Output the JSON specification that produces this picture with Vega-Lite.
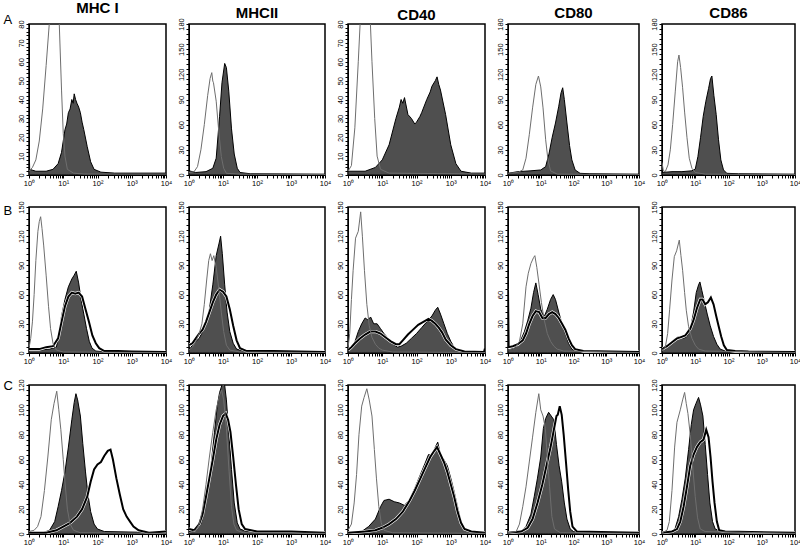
{
"$schema": "https://vega.github.io/schema/vega-lite/v6.json",
"padding": {"left": 2, "top": 0, "right": 2, "bottom": 2},
"config": {
 "font": "Liberation Sans",
 "view": {"stroke": "black", "strokeWidth": 1.5},
 "title": {"fontSize": 15, "fontWeight": "bold", "font": "Liberation Sans", "offset": -3, "frame": "group", "color": "black"},
 "axis": {"grid": false, "domainColor": "black", "tickColor": "black", "tickSize": 3, "labelFont": "Liberation Sans", "labelFontSize": 7.5, "labelColor": "black", "labelPadding": 1, "labelOverlap": false, "labelFlush": false, "labelBound": false},
 "axisY": {"labelAngle": 270, "titleAngle": 0, "titleAlign": "left", "titleBaseline": "top", "titleFontSize": 13, "titleFontWeight": "normal", "titleX": -26, "titleColor": "black", "titleFont": "Liberation Sans"}
},
"datasets": {
"A1": [{"s":"c","x":0,"y":2},{"s":"c","x":0.1,"y":4},{"s":"c","x":0.2,"y":8},{"s":"c","x":0.3,"y":18},{"s":"c","x":0.4,"y":35},{"s":"c","x":0.5,"y":58},{"s":"c","x":0.6,"y":82},{"s":"c","x":0.7,"y":100},{"s":"c","x":0.8,"y":100},{"s":"c","x":0.88,"y":82},{"s":"c","x":0.95,"y":45},{"s":"c","x":1,"y":22},{"s":"c","x":1.05,"y":10},{"s":"c","x":1.12,"y":3},{"s":"c","x":1.3,"y":1},{"s":"c","x":1.6,"y":0.5},{"s":"c","x":4,"y":0.5},
{"s":"f","x":0,"y":18},{"s":"f","x":0.02,"y":3},{"s":"f","x":0.2,"y":2},{"s":"f","x":0.5,"y":2},{"s":"f","x":0.7,"y":3},{"s":"f","x":0.85,"y":6},{"s":"f","x":0.95,"y":12},{"s":"f","x":1.05,"y":24},{"s":"f","x":1.1,"y":27},{"s":"f","x":1.15,"y":33},{"s":"f","x":1.2,"y":35},{"s":"f","x":1.25,"y":40},{"s":"f","x":1.29,"y":38},{"s":"f","x":1.32,"y":43},{"s":"f","x":1.36,"y":40},{"s":"f","x":1.4,"y":38},{"s":"f","x":1.45,"y":36},{"s":"f","x":1.5,"y":33},{"s":"f","x":1.55,"y":28},{"s":"f","x":1.6,"y":24},{"s":"f","x":1.7,"y":15},{"s":"f","x":1.8,"y":7},{"s":"f","x":1.9,"y":3},{"s":"f","x":2.1,"y":1.5},{"s":"f","x":2.5,"y":1},{"s":"f","x":4,"y":1}],
"A2": [{"s":"c","x":0,"y":3},{"s":"c","x":0.15,"y":4},{"s":"c","x":0.25,"y":10},{"s":"c","x":0.35,"y":30},{"s":"c","x":0.45,"y":60},{"s":"c","x":0.55,"y":95},{"s":"c","x":0.62,"y":115},{"s":"c","x":0.67,"y":122},{"s":"c","x":0.7,"y":112},{"s":"c","x":0.72,"y":110},{"s":"c","x":0.8,"y":88},{"s":"c","x":0.88,"y":50},{"s":"c","x":0.95,"y":22},{"s":"c","x":1.02,"y":8},{"s":"c","x":1.1,"y":2},{"s":"c","x":1.5,"y":1},{"s":"c","x":4,"y":0.5},
{"s":"f","x":0,"y":5},{"s":"f","x":0.2,"y":3},{"s":"f","x":0.5,"y":4},{"s":"f","x":0.7,"y":8},{"s":"f","x":0.8,"y":20},{"s":"f","x":0.9,"y":70},{"s":"f","x":0.97,"y":110},{"s":"f","x":1.05,"y":133},{"s":"f","x":1.1,"y":128},{"s":"f","x":1.17,"y":100},{"s":"f","x":1.25,"y":55},{"s":"f","x":1.33,"y":25},{"s":"f","x":1.42,"y":8},{"s":"f","x":1.5,"y":3},{"s":"f","x":1.8,"y":1.5},{"s":"f","x":4,"y":1}],
"A3": [{"s":"c","x":0,"y":2},{"s":"c","x":0.1,"y":5},{"s":"c","x":0.2,"y":25},{"s":"c","x":0.3,"y":60},{"s":"c","x":0.38,"y":90},{"s":"c","x":0.5,"y":110},{"s":"c","x":0.62,"y":95},{"s":"c","x":0.7,"y":60},{"s":"c","x":0.78,"y":30},{"s":"c","x":0.85,"y":10},{"s":"c","x":0.95,"y":3},{"s":"c","x":1.2,"y":1},{"s":"c","x":4,"y":0.5},
{"s":"f","x":0,"y":2},{"s":"f","x":0.5,"y":2},{"s":"f","x":0.8,"y":4},{"s":"f","x":1,"y":8},{"s":"f","x":1.2,"y":16},{"s":"f","x":1.4,"y":30},{"s":"f","x":1.5,"y":36},{"s":"f","x":1.55,"y":40},{"s":"f","x":1.6,"y":38},{"s":"f","x":1.65,"y":41},{"s":"f","x":1.75,"y":32},{"s":"f","x":1.85,"y":30},{"s":"f","x":1.95,"y":27},{"s":"f","x":2,"y":28},{"s":"f","x":2.1,"y":31},{"s":"f","x":2.15,"y":33},{"s":"f","x":2.3,"y":40},{"s":"f","x":2.4,"y":44},{"s":"f","x":2.45,"y":47},{"s":"f","x":2.55,"y":50},{"s":"f","x":2.6,"y":52},{"s":"f","x":2.65,"y":48},{"s":"f","x":2.7,"y":45},{"s":"f","x":2.85,"y":32},{"s":"f","x":3,"y":16},{"s":"f","x":3.15,"y":6},{"s":"f","x":3.3,"y":2},{"s":"f","x":3.6,"y":1},{"s":"f","x":4,"y":1}],
"A4": [{"s":"c","x":0,"y":2},{"s":"c","x":0.3,"y":3},{"s":"c","x":0.45,"y":6},{"s":"c","x":0.55,"y":20},{"s":"c","x":0.65,"y":48},{"s":"c","x":0.75,"y":80},{"s":"c","x":0.85,"y":108},{"s":"c","x":0.93,"y":118},{"s":"c","x":1,"y":105},{"s":"c","x":1.07,"y":80},{"s":"c","x":1.15,"y":42},{"s":"c","x":1.22,"y":18},{"s":"c","x":1.3,"y":5},{"s":"c","x":1.5,"y":1},{"s":"c","x":4,"y":0.5},
{"s":"f","x":0,"y":2},{"s":"f","x":0.3,"y":4},{"s":"f","x":0.7,"y":5},{"s":"f","x":1,"y":6},{"s":"f","x":1.15,"y":10},{"s":"f","x":1.25,"y":25},{"s":"f","x":1.35,"y":45},{"s":"f","x":1.45,"y":62},{"s":"f","x":1.55,"y":82},{"s":"f","x":1.62,"y":98},{"s":"f","x":1.67,"y":104},{"s":"f","x":1.72,"y":90},{"s":"f","x":1.8,"y":62},{"s":"f","x":1.88,"y":35},{"s":"f","x":1.95,"y":18},{"s":"f","x":2.05,"y":6},{"s":"f","x":2.2,"y":2},{"s":"f","x":2.5,"y":1.5},{"s":"f","x":4,"y":1}],
"A5": [{"s":"c","x":0,"y":15},{"s":"c","x":0.04,"y":5},{"s":"c","x":0.1,"y":4},{"s":"c","x":0.18,"y":12},{"s":"c","x":0.25,"y":30},{"s":"c","x":0.32,"y":60},{"s":"c","x":0.4,"y":100},{"s":"c","x":0.47,"y":135},{"s":"c","x":0.51,"y":143},{"s":"c","x":0.56,"y":128},{"s":"c","x":0.62,"y":104},{"s":"c","x":0.68,"y":75},{"s":"c","x":0.75,"y":45},{"s":"c","x":0.82,"y":20},{"s":"c","x":0.9,"y":8},{"s":"c","x":1,"y":3},{"s":"c","x":1.3,"y":1},{"s":"c","x":4,"y":0.5},
{"s":"f","x":0,"y":3},{"s":"f","x":0.3,"y":4},{"s":"f","x":0.6,"y":4},{"s":"f","x":0.9,"y":5},{"s":"f","x":1,"y":7},{"s":"f","x":1.08,"y":22},{"s":"f","x":1.16,"y":45},{"s":"f","x":1.24,"y":70},{"s":"f","x":1.32,"y":88},{"s":"f","x":1.4,"y":103},{"s":"f","x":1.46,"y":115},{"s":"f","x":1.5,"y":118},{"s":"f","x":1.56,"y":95},{"s":"f","x":1.63,"y":72},{"s":"f","x":1.7,"y":42},{"s":"f","x":1.77,"y":18},{"s":"f","x":1.85,"y":6},{"s":"f","x":1.95,"y":2},{"s":"f","x":2.3,"y":1.5},{"s":"f","x":4,"y":1}],
"B1": [{"s":"c","x":0,"y":5},{"s":"c","x":0.05,"y":15},{"s":"c","x":0.1,"y":32},{"s":"c","x":0.15,"y":60},{"s":"c","x":0.2,"y":95},{"s":"c","x":0.26,"y":125},{"s":"c","x":0.3,"y":135},{"s":"c","x":0.34,"y":140},{"s":"c","x":0.38,"y":128},{"s":"c","x":0.43,"y":110},{"s":"c","x":0.5,"y":80},{"s":"c","x":0.57,"y":48},{"s":"c","x":0.63,"y":25},{"s":"c","x":0.7,"y":10},{"s":"c","x":0.8,"y":3},{"s":"c","x":1,"y":1},{"s":"c","x":4,"y":0.5},
{"s":"f","x":0,"y":3},{"s":"f","x":0.3,"y":3},{"s":"f","x":0.6,"y":4},{"s":"f","x":0.8,"y":6},{"s":"f","x":0.88,"y":20},{"s":"f","x":0.95,"y":38},{"s":"f","x":1.05,"y":55},{"s":"f","x":1.15,"y":68},{"s":"f","x":1.25,"y":76},{"s":"f","x":1.32,"y":80},{"s":"f","x":1.38,"y":84},{"s":"f","x":1.45,"y":72},{"s":"f","x":1.52,"y":55},{"s":"f","x":1.6,"y":40},{"s":"f","x":1.68,"y":25},{"s":"f","x":1.76,"y":12},{"s":"f","x":1.84,"y":5},{"s":"f","x":1.95,"y":2},{"s":"f","x":2.3,"y":1},{"s":"f","x":4,"y":1},
{"s":"b","x":0,"y":4},{"s":"b","x":0.3,"y":4},{"s":"b","x":0.5,"y":6},{"s":"b","x":0.7,"y":7},{"s":"b","x":0.85,"y":15},{"s":"b","x":0.95,"y":32},{"s":"b","x":1.05,"y":48},{"s":"b","x":1.15,"y":58},{"s":"b","x":1.25,"y":62},{"s":"b","x":1.35,"y":61},{"s":"b","x":1.45,"y":62},{"s":"b","x":1.55,"y":58},{"s":"b","x":1.65,"y":45},{"s":"b","x":1.75,"y":32},{"s":"b","x":1.85,"y":18},{"s":"b","x":1.95,"y":10},{"s":"b","x":2.05,"y":5},{"s":"b","x":2.2,"y":2},{"s":"b","x":2.6,"y":2},{"s":"b","x":3,"y":1.5},{"s":"b","x":4,"y":1}],
"B2": [{"s":"c","x":0,"y":3},{"s":"c","x":0.1,"y":6},{"s":"c","x":0.2,"y":12},{"s":"c","x":0.3,"y":20},{"s":"c","x":0.38,"y":30},{"s":"c","x":0.45,"y":50},{"s":"c","x":0.52,"y":75},{"s":"c","x":0.58,"y":95},{"s":"c","x":0.63,"y":102},{"s":"c","x":0.68,"y":95},{"s":"c","x":0.73,"y":100},{"s":"c","x":0.8,"y":88},{"s":"c","x":0.88,"y":65},{"s":"c","x":0.95,"y":42},{"s":"c","x":1.02,"y":22},{"s":"c","x":1.1,"y":8},{"s":"c","x":1.2,"y":3},{"s":"c","x":1.5,"y":1},{"s":"c","x":4,"y":0.5},
{"s":"f","x":0,"y":3},{"s":"f","x":0.1,"y":8},{"s":"f","x":0.2,"y":12},{"s":"f","x":0.3,"y":15},{"s":"f","x":0.4,"y":22},{"s":"f","x":0.5,"y":30},{"s":"f","x":0.6,"y":45},{"s":"f","x":0.7,"y":70},{"s":"f","x":0.8,"y":100},{"s":"f","x":0.88,"y":112},{"s":"f","x":0.93,"y":120},{"s":"f","x":0.98,"y":102},{"s":"f","x":1.05,"y":70},{"s":"f","x":1.12,"y":42},{"s":"f","x":1.2,"y":22},{"s":"f","x":1.3,"y":10},{"s":"f","x":1.4,"y":4},{"s":"f","x":1.6,"y":2},{"s":"f","x":2,"y":2},{"s":"f","x":4,"y":1},
{"s":"b","x":0,"y":8},{"s":"b","x":0.1,"y":10},{"s":"b","x":0.2,"y":15},{"s":"b","x":0.3,"y":20},{"s":"b","x":0.4,"y":24},{"s":"b","x":0.5,"y":32},{"s":"b","x":0.6,"y":42},{"s":"b","x":0.7,"y":52},{"s":"b","x":0.8,"y":60},{"s":"b","x":0.9,"y":65},{"s":"b","x":1,"y":63},{"s":"b","x":1.1,"y":58},{"s":"b","x":1.2,"y":45},{"s":"b","x":1.3,"y":28},{"s":"b","x":1.4,"y":13},{"s":"b","x":1.5,"y":5},{"s":"b","x":1.7,"y":2},{"s":"b","x":2.5,"y":2},{"s":"b","x":4,"y":1}],
"B3": [{"s":"c","x":0,"y":5},{"s":"c","x":0.05,"y":20},{"s":"c","x":0.1,"y":55},{"s":"c","x":0.15,"y":85},{"s":"c","x":0.22,"y":118},{"s":"c","x":0.3,"y":125},{"s":"c","x":0.37,"y":145},{"s":"c","x":0.42,"y":120},{"s":"c","x":0.48,"y":85},{"s":"c","x":0.55,"y":50},{"s":"c","x":0.62,"y":28},{"s":"c","x":0.7,"y":16},{"s":"c","x":0.8,"y":9},{"s":"c","x":0.9,"y":5},{"s":"c","x":1,"y":3},{"s":"c","x":1.3,"y":1},{"s":"c","x":4,"y":0.5},
{"s":"f","x":0,"y":2},{"s":"f","x":0.15,"y":6},{"s":"f","x":0.3,"y":22},{"s":"f","x":0.4,"y":30},{"s":"f","x":0.5,"y":36},{"s":"f","x":0.58,"y":34},{"s":"f","x":0.66,"y":37},{"s":"f","x":0.75,"y":30},{"s":"f","x":0.85,"y":30},{"s":"f","x":0.95,"y":25},{"s":"f","x":1.05,"y":20},{"s":"f","x":1.15,"y":16},{"s":"f","x":1.25,"y":12},{"s":"f","x":1.35,"y":8},{"s":"f","x":1.45,"y":6},{"s":"f","x":1.55,"y":7},{"s":"f","x":1.7,"y":10},{"s":"f","x":1.85,"y":15},{"s":"f","x":2,"y":20},{"s":"f","x":2.15,"y":26},{"s":"f","x":2.3,"y":32},{"s":"f","x":2.45,"y":38},{"s":"f","x":2.55,"y":44},{"s":"f","x":2.62,"y":47},{"s":"f","x":2.7,"y":40},{"s":"f","x":2.8,"y":30},{"s":"f","x":2.9,"y":20},{"s":"f","x":3,"y":12},{"s":"f","x":3.1,"y":6},{"s":"f","x":3.25,"y":3},{"s":"f","x":3.5,"y":1},{"s":"f","x":4,"y":1},
{"s":"b","x":0,"y":3},{"s":"b","x":0.1,"y":6},{"s":"b","x":0.2,"y":10},{"s":"b","x":0.35,"y":15},{"s":"b","x":0.5,"y":19},{"s":"b","x":0.65,"y":22},{"s":"b","x":0.8,"y":22},{"s":"b","x":0.95,"y":20},{"s":"b","x":1.1,"y":16},{"s":"b","x":1.25,"y":12},{"s":"b","x":1.4,"y":9},{"s":"b","x":1.5,"y":9},{"s":"b","x":1.6,"y":13},{"s":"b","x":1.75,"y":19},{"s":"b","x":1.9,"y":24},{"s":"b","x":2.05,"y":29},{"s":"b","x":2.2,"y":32},{"s":"b","x":2.35,"y":35},{"s":"b","x":2.45,"y":33},{"s":"b","x":2.55,"y":30},{"s":"b","x":2.65,"y":26},{"s":"b","x":2.75,"y":21},{"s":"b","x":2.85,"y":14},{"s":"b","x":3,"y":8},{"s":"b","x":3.15,"y":4},{"s":"b","x":3.4,"y":1.5},{"s":"b","x":3.97,"y":1},{"s":"b","x":4,"y":5}],
"B4": [{"s":"c","x":0,"y":3},{"s":"c","x":0.2,"y":5},{"s":"c","x":0.35,"y":12},{"s":"c","x":0.45,"y":30},{"s":"c","x":0.55,"y":68},{"s":"c","x":0.62,"y":82},{"s":"c","x":0.7,"y":92},{"s":"c","x":0.78,"y":98},{"s":"c","x":0.82,"y":100},{"s":"c","x":0.88,"y":88},{"s":"c","x":0.95,"y":70},{"s":"c","x":1.02,"y":52},{"s":"c","x":1.1,"y":35},{"s":"c","x":1.2,"y":20},{"s":"c","x":1.3,"y":12},{"s":"c","x":1.4,"y":7},{"s":"c","x":1.5,"y":4},{"s":"c","x":1.7,"y":2},{"s":"c","x":4,"y":0.5},
{"s":"f","x":0,"y":3},{"s":"f","x":0.2,"y":5},{"s":"f","x":0.35,"y":10},{"s":"f","x":0.5,"y":22},{"s":"f","x":0.6,"y":33},{"s":"f","x":0.7,"y":46},{"s":"f","x":0.78,"y":62},{"s":"f","x":0.85,"y":72},{"s":"f","x":0.92,"y":60},{"s":"f","x":1,"y":45},{"s":"f","x":1.1,"y":37},{"s":"f","x":1.2,"y":45},{"s":"f","x":1.3,"y":55},{"s":"f","x":1.38,"y":60},{"s":"f","x":1.45,"y":55},{"s":"f","x":1.55,"y":42},{"s":"f","x":1.65,"y":30},{"s":"f","x":1.75,"y":20},{"s":"f","x":1.85,"y":10},{"s":"f","x":1.95,"y":4},{"s":"f","x":2.1,"y":2},{"s":"f","x":2.5,"y":1.5},{"s":"f","x":4,"y":1},
{"s":"b","x":0,"y":65},{"s":"b","x":0.02,"y":6},{"s":"b","x":0.15,"y":7},{"s":"b","x":0.3,"y":9},{"s":"b","x":0.45,"y":13},{"s":"b","x":0.55,"y":20},{"s":"b","x":0.65,"y":30},{"s":"b","x":0.75,"y":38},{"s":"b","x":0.85,"y":43},{"s":"b","x":0.95,"y":42},{"s":"b","x":1.05,"y":36},{"s":"b","x":1.15,"y":36},{"s":"b","x":1.25,"y":40},{"s":"b","x":1.35,"y":42},{"s":"b","x":1.45,"y":40},{"s":"b","x":1.55,"y":36},{"s":"b","x":1.65,"y":30},{"s":"b","x":1.75,"y":24},{"s":"b","x":1.85,"y":15},{"s":"b","x":1.95,"y":8},{"s":"b","x":2.05,"y":4},{"s":"b","x":2.3,"y":2},{"s":"b","x":4,"y":1}],
"B5": [{"s":"c","x":0,"y":2},{"s":"c","x":0.1,"y":6},{"s":"c","x":0.17,"y":20},{"s":"c","x":0.23,"y":45},{"s":"c","x":0.3,"y":75},{"s":"c","x":0.37,"y":99},{"s":"c","x":0.44,"y":105},{"s":"c","x":0.52,"y":116},{"s":"c","x":0.57,"y":100},{"s":"c","x":0.62,"y":85},{"s":"c","x":0.68,"y":62},{"s":"c","x":0.73,"y":44},{"s":"c","x":0.8,"y":27},{"s":"c","x":0.9,"y":15},{"s":"c","x":1,"y":8},{"s":"c","x":1.1,"y":4},{"s":"c","x":1.3,"y":2},{"s":"c","x":4,"y":0.5},
{"s":"f","x":0,"y":3},{"s":"f","x":0.15,"y":7},{"s":"f","x":0.3,"y":12},{"s":"f","x":0.45,"y":16},{"s":"f","x":0.55,"y":17},{"s":"f","x":0.65,"y":15},{"s":"f","x":0.75,"y":17},{"s":"f","x":0.85,"y":24},{"s":"f","x":0.95,"y":42},{"s":"f","x":1.03,"y":62},{"s":"f","x":1.1,"y":70},{"s":"f","x":1.14,"y":73},{"s":"f","x":1.2,"y":64},{"s":"f","x":1.28,"y":52},{"s":"f","x":1.36,"y":40},{"s":"f","x":1.45,"y":28},{"s":"f","x":1.55,"y":17},{"s":"f","x":1.65,"y":9},{"s":"f","x":1.75,"y":4},{"s":"f","x":1.9,"y":2},{"s":"f","x":2.5,"y":1.5},{"s":"f","x":4,"y":1},
{"s":"b","x":0,"y":4},{"s":"b","x":0.15,"y":7},{"s":"b","x":0.3,"y":11},{"s":"b","x":0.45,"y":15},{"s":"b","x":0.55,"y":16},{"s":"b","x":0.7,"y":18},{"s":"b","x":0.85,"y":25},{"s":"b","x":0.95,"y":34},{"s":"b","x":1.05,"y":46},{"s":"b","x":1.15,"y":55},{"s":"b","x":1.22,"y":55},{"s":"b","x":1.3,"y":50},{"s":"b","x":1.38,"y":52},{"s":"b","x":1.47,"y":57},{"s":"b","x":1.55,"y":50},{"s":"b","x":1.63,"y":38},{"s":"b","x":1.7,"y":28},{"s":"b","x":1.78,"y":17},{"s":"b","x":1.86,"y":8},{"s":"b","x":1.95,"y":3},{"s":"b","x":2.2,"y":2},{"s":"b","x":2.6,"y":1.5},{"s":"b","x":4,"y":1}],
"C1": [{"s":"c","x":0,"y":2},{"s":"c","x":0.15,"y":3},{"s":"c","x":0.25,"y":6},{"s":"c","x":0.35,"y":14},{"s":"c","x":0.45,"y":35},{"s":"c","x":0.55,"y":62},{"s":"c","x":0.65,"y":92},{"s":"c","x":0.73,"y":105},{"s":"c","x":0.81,"y":115},{"s":"c","x":0.87,"y":100},{"s":"c","x":0.93,"y":84},{"s":"c","x":1,"y":60},{"s":"c","x":1.05,"y":42},{"s":"c","x":1.12,"y":20},{"s":"c","x":1.2,"y":8},{"s":"c","x":1.3,"y":3},{"s":"c","x":1.5,"y":1},{"s":"c","x":4,"y":0.5},
{"s":"f","x":0,"y":1},{"s":"f","x":0.4,"y":1},{"s":"f","x":0.6,"y":3},{"s":"f","x":0.75,"y":10},{"s":"f","x":0.85,"y":22},{"s":"f","x":0.95,"y":35},{"s":"f","x":1.05,"y":50},{"s":"f","x":1.15,"y":70},{"s":"f","x":1.25,"y":92},{"s":"f","x":1.32,"y":106},{"s":"f","x":1.37,"y":113},{"s":"f","x":1.42,"y":108},{"s":"f","x":1.5,"y":95},{"s":"f","x":1.57,"y":73},{"s":"f","x":1.65,"y":50},{"s":"f","x":1.72,"y":32},{"s":"f","x":1.8,"y":18},{"s":"f","x":1.9,"y":8},{"s":"f","x":2,"y":4},{"s":"f","x":2.2,"y":2},{"s":"f","x":4,"y":1},
{"s":"b","x":0,"y":1},{"s":"b","x":0.5,"y":1},{"s":"b","x":0.8,"y":3},{"s":"b","x":1,"y":6},{"s":"b","x":1.2,"y":9},{"s":"b","x":1.4,"y":14},{"s":"b","x":1.55,"y":20},{"s":"b","x":1.7,"y":30},{"s":"b","x":1.8,"y":42},{"s":"b","x":1.9,"y":52},{"s":"b","x":2,"y":56},{"s":"b","x":2.1,"y":58},{"s":"b","x":2.2,"y":63},{"s":"b","x":2.3,"y":67},{"s":"b","x":2.38,"y":68},{"s":"b","x":2.45,"y":60},{"s":"b","x":2.55,"y":45},{"s":"b","x":2.65,"y":32},{"s":"b","x":2.75,"y":20},{"s":"b","x":2.85,"y":14},{"s":"b","x":2.95,"y":10},{"s":"b","x":3.05,"y":6},{"s":"b","x":3.2,"y":3},{"s":"b","x":3.5,"y":1},{"s":"b","x":4,"y":2}],
"C2": [{"s":"c","x":0,"y":1},{"s":"c","x":0.2,"y":3},{"s":"c","x":0.3,"y":8},{"s":"c","x":0.4,"y":20},{"s":"c","x":0.5,"y":40},{"s":"c","x":0.6,"y":62},{"s":"c","x":0.7,"y":82},{"s":"c","x":0.8,"y":100},{"s":"c","x":0.9,"y":112},{"s":"c","x":0.96,"y":116},{"s":"c","x":1.02,"y":108},{"s":"c","x":1.1,"y":85},{"s":"c","x":1.18,"y":50},{"s":"c","x":1.25,"y":22},{"s":"c","x":1.32,"y":8},{"s":"c","x":1.4,"y":3},{"s":"c","x":1.6,"y":1},{"s":"c","x":4,"y":0.5},
{"s":"f","x":0,"y":2},{"s":"f","x":0.2,"y":3},{"s":"f","x":0.35,"y":8},{"s":"f","x":0.45,"y":18},{"s":"f","x":0.55,"y":35},{"s":"f","x":0.65,"y":56},{"s":"f","x":0.75,"y":82},{"s":"f","x":0.83,"y":103},{"s":"f","x":0.9,"y":114},{"s":"f","x":0.97,"y":120},{"s":"f","x":1.04,"y":122},{"s":"f","x":1.1,"y":108},{"s":"f","x":1.17,"y":82},{"s":"f","x":1.25,"y":52},{"s":"f","x":1.33,"y":25},{"s":"f","x":1.42,"y":9},{"s":"f","x":1.5,"y":4},{"s":"f","x":1.7,"y":2},{"s":"f","x":4,"y":1},
{"s":"b","x":0,"y":4},{"s":"b","x":0.15,"y":3},{"s":"b","x":0.3,"y":8},{"s":"b","x":0.4,"y":16},{"s":"b","x":0.5,"y":30},{"s":"b","x":0.6,"y":45},{"s":"b","x":0.7,"y":60},{"s":"b","x":0.8,"y":76},{"s":"b","x":0.9,"y":88},{"s":"b","x":1,"y":95},{"s":"b","x":1.08,"y":97},{"s":"b","x":1.15,"y":92},{"s":"b","x":1.22,"y":82},{"s":"b","x":1.3,"y":62},{"s":"b","x":1.38,"y":40},{"s":"b","x":1.46,"y":20},{"s":"b","x":1.55,"y":8},{"s":"b","x":1.65,"y":4},{"s":"b","x":2,"y":2},{"s":"b","x":3,"y":2},{"s":"b","x":4,"y":1}],
"C3": [{"s":"c","x":0,"y":3},{"s":"c","x":0.1,"y":8},{"s":"c","x":0.18,"y":25},{"s":"c","x":0.25,"y":48},{"s":"c","x":0.32,"y":80},{"s":"c","x":0.4,"y":103},{"s":"c","x":0.47,"y":110},{"s":"c","x":0.55,"y":117},{"s":"c","x":0.62,"y":108},{"s":"c","x":0.7,"y":95},{"s":"c","x":0.77,"y":68},{"s":"c","x":0.83,"y":45},{"s":"c","x":0.9,"y":22},{"s":"c","x":0.97,"y":9},{"s":"c","x":1.05,"y":3},{"s":"c","x":1.3,"y":1},{"s":"c","x":4,"y":0.5},
{"s":"f","x":0,"y":1},{"s":"f","x":0.4,"y":2},{"s":"f","x":0.6,"y":6},{"s":"f","x":0.8,"y":12},{"s":"f","x":0.95,"y":22},{"s":"f","x":1.05,"y":27},{"s":"f","x":1.2,"y":28},{"s":"f","x":1.35,"y":26},{"s":"f","x":1.5,"y":25},{"s":"f","x":1.65,"y":23},{"s":"f","x":1.8,"y":28},{"s":"f","x":1.95,"y":37},{"s":"f","x":2.1,"y":47},{"s":"f","x":2.25,"y":57},{"s":"f","x":2.35,"y":64},{"s":"f","x":2.45,"y":63},{"s":"f","x":2.55,"y":70},{"s":"f","x":2.62,"y":74},{"s":"f","x":2.7,"y":64},{"s":"f","x":2.8,"y":60},{"s":"f","x":2.9,"y":55},{"s":"f","x":3,"y":45},{"s":"f","x":3.1,"y":34},{"s":"f","x":3.2,"y":22},{"s":"f","x":3.3,"y":10},{"s":"f","x":3.4,"y":4},{"s":"f","x":3.6,"y":1.5},{"s":"f","x":4,"y":1},
{"s":"b","x":0,"y":1},{"s":"b","x":0.5,"y":2},{"s":"b","x":0.8,"y":3},{"s":"b","x":1,"y":5},{"s":"b","x":1.2,"y":8},{"s":"b","x":1.4,"y":12},{"s":"b","x":1.6,"y":18},{"s":"b","x":1.8,"y":27},{"s":"b","x":1.95,"y":35},{"s":"b","x":2.1,"y":44},{"s":"b","x":2.25,"y":53},{"s":"b","x":2.4,"y":62},{"s":"b","x":2.52,"y":67},{"s":"b","x":2.6,"y":70},{"s":"b","x":2.7,"y":64},{"s":"b","x":2.8,"y":58},{"s":"b","x":2.9,"y":50},{"s":"b","x":3,"y":40},{"s":"b","x":3.1,"y":30},{"s":"b","x":3.2,"y":18},{"s":"b","x":3.3,"y":9},{"s":"b","x":3.4,"y":4},{"s":"b","x":3.6,"y":2},{"s":"b","x":4,"y":1}],
"C4": [{"s":"c","x":0,"y":1},{"s":"c","x":0.25,"y":2},{"s":"c","x":0.35,"y":8},{"s":"c","x":0.45,"y":22},{"s":"c","x":0.55,"y":38},{"s":"c","x":0.65,"y":58},{"s":"c","x":0.75,"y":78},{"s":"c","x":0.85,"y":98},{"s":"c","x":0.94,"y":113},{"s":"c","x":1,"y":100},{"s":"c","x":1.07,"y":95},{"s":"c","x":1.14,"y":85},{"s":"c","x":1.2,"y":62},{"s":"c","x":1.27,"y":38},{"s":"c","x":1.34,"y":14},{"s":"c","x":1.42,"y":4},{"s":"c","x":1.6,"y":1},{"s":"c","x":4,"y":0.5},
{"s":"f","x":0,"y":1},{"s":"f","x":0.4,"y":2},{"s":"f","x":0.55,"y":6},{"s":"f","x":0.7,"y":16},{"s":"f","x":0.8,"y":30},{"s":"f","x":0.9,"y":45},{"s":"f","x":1,"y":62},{"s":"f","x":1.08,"y":85},{"s":"f","x":1.15,"y":93},{"s":"f","x":1.24,"y":98},{"s":"f","x":1.32,"y":95},{"s":"f","x":1.4,"y":92},{"s":"f","x":1.48,"y":72},{"s":"f","x":1.56,"y":55},{"s":"f","x":1.64,"y":42},{"s":"f","x":1.72,"y":25},{"s":"f","x":1.8,"y":12},{"s":"f","x":1.9,"y":4},{"s":"f","x":2,"y":2},{"s":"f","x":4,"y":1},
{"s":"b","x":0,"y":1},{"s":"b","x":0.4,"y":2},{"s":"b","x":0.6,"y":5},{"s":"b","x":0.75,"y":12},{"s":"b","x":0.9,"y":25},{"s":"b","x":1.05,"y":40},{"s":"b","x":1.2,"y":58},{"s":"b","x":1.3,"y":70},{"s":"b","x":1.4,"y":84},{"s":"b","x":1.48,"y":95},{"s":"b","x":1.52,"y":96},{"s":"b","x":1.58,"y":103},{"s":"b","x":1.64,"y":96},{"s":"b","x":1.7,"y":80},{"s":"b","x":1.77,"y":58},{"s":"b","x":1.84,"y":35},{"s":"b","x":1.9,"y":18},{"s":"b","x":1.97,"y":6},{"s":"b","x":2.1,"y":2},{"s":"b","x":4,"y":1}],
"C5": [{"s":"c","x":0,"y":1},{"s":"c","x":0.15,"y":3},{"s":"c","x":0.22,"y":10},{"s":"c","x":0.3,"y":35},{"s":"c","x":0.38,"y":70},{"s":"c","x":0.45,"y":90},{"s":"c","x":0.55,"y":100},{"s":"c","x":0.62,"y":108},{"s":"c","x":0.68,"y":114},{"s":"c","x":0.73,"y":105},{"s":"c","x":0.78,"y":97},{"s":"c","x":0.85,"y":80},{"s":"c","x":0.92,"y":55},{"s":"c","x":1,"y":30},{"s":"c","x":1.07,"y":13},{"s":"c","x":1.15,"y":4},{"s":"c","x":1.3,"y":2},{"s":"c","x":4,"y":0.5},
{"s":"f","x":0,"y":1},{"s":"f","x":0.3,"y":2},{"s":"f","x":0.4,"y":5},{"s":"f","x":0.5,"y":14},{"s":"f","x":0.6,"y":28},{"s":"f","x":0.7,"y":45},{"s":"f","x":0.8,"y":68},{"s":"f","x":0.88,"y":88},{"s":"f","x":0.95,"y":100},{"s":"f","x":1.02,"y":105},{"s":"f","x":1.1,"y":110},{"s":"f","x":1.16,"y":104},{"s":"f","x":1.23,"y":95},{"s":"f","x":1.3,"y":72},{"s":"f","x":1.37,"y":48},{"s":"f","x":1.44,"y":25},{"s":"f","x":1.52,"y":10},{"s":"f","x":1.6,"y":4},{"s":"f","x":1.8,"y":2},{"s":"f","x":4,"y":1},
{"s":"b","x":0,"y":1},{"s":"b","x":0.3,"y":2},{"s":"b","x":0.45,"y":4},{"s":"b","x":0.55,"y":10},{"s":"b","x":0.65,"y":22},{"s":"b","x":0.75,"y":38},{"s":"b","x":0.85,"y":55},{"s":"b","x":0.95,"y":64},{"s":"b","x":1.05,"y":70},{"s":"b","x":1.15,"y":74},{"s":"b","x":1.25,"y":76},{"s":"b","x":1.33,"y":84},{"s":"b","x":1.4,"y":78},{"s":"b","x":1.46,"y":62},{"s":"b","x":1.52,"y":42},{"s":"b","x":1.58,"y":25},{"s":"b","x":1.65,"y":10},{"s":"b","x":1.72,"y":3},{"s":"b","x":1.9,"y":2},{"s":"b","x":4,"y":1}]
},
"columns": 5,
"spacing": {"row": 32, "column": 23},
"bounds": "flush",
"concat": [
 {"width": 137, "height": 151, "title": "MHC I", "data": {"name": "A1"},
  "encoding": {"x": {"field": "x", "type": "quantitative", "scale": {"domain": [0, 4], "nice": false}, "axis": {"values": [0,0.301,0.477,0.602,0.699,0.778,0.845,0.903,0.954,1,1.301,1.477,1.602,1.699,1.778,1.845,1.903,1.954,2,2.301,2.477,2.602,2.699,2.778,2.845,2.903,2.954,3,3.301,3.477,3.602,3.699,3.778,3.845,3.903,3.954,4], "labelExpr": "datum.value % 1 === 0 ? '10' + ['⁰','¹','²','³','⁴'][datum.value] : ''", "title": null}},
   "y": {"field": "y", "type": "quantitative", "scale": {"domain": [0, 80], "nice": false}, "axis": {"values": [0,2,4,6,8,10,12,14,16,18,20,22,24,26,28,30,32,34,36,38,40,42,44,46,48,50,52,54,56,58,60,62,64,66,68,70,72,74,76,78,80], "labelExpr": "datum.value % 10 === 0 ? datum.label : ''", "title": "A", "titleY": -11}}},
  "layer": [
   {"transform": [{"filter": "datum.s === 'f'"}], "mark": {"type": "area", "fill": "#4f4f4f", "stroke": "black", "strokeWidth": 1, "opacity": 1, "clip": true}},
   {"transform": [{"filter": "datum.s === 'c'"}], "mark": {"type": "line", "color": "#6e6e6e", "strokeWidth": 1, "clip": true}}]},
 {"width": 136, "height": 151, "title": "MHCII", "data": {"name": "A2"},
  "encoding": {"x": {"field": "x", "type": "quantitative", "scale": {"domain": [0, 4], "nice": false}, "axis": {"values": [0,0.301,0.477,0.602,0.699,0.778,0.845,0.903,0.954,1,1.301,1.477,1.602,1.699,1.778,1.845,1.903,1.954,2,2.301,2.477,2.602,2.699,2.778,2.845,2.903,2.954,3,3.301,3.477,3.602,3.699,3.778,3.845,3.903,3.954,4], "labelExpr": "datum.value % 1 === 0 ? '10' + ['⁰','¹','²','³','⁴'][datum.value] : ''", "title": null}},
   "y": {"field": "y", "type": "quantitative", "scale": {"domain": [0, 180], "nice": false}, "axis": {"values": [0,6,12,18,24,30,36,42,48,54,60,66,72,78,84,90,96,102,108,114,120,126,132,138,144,150,156,162,168,174,180], "labelExpr": "datum.value % 30 === 0 ? datum.label : ''", "title": null}}},
  "layer": [
   {"transform": [{"filter": "datum.s === 'f'"}], "mark": {"type": "area", "fill": "#4f4f4f", "stroke": "black", "strokeWidth": 1, "opacity": 1, "clip": true}},
   {"transform": [{"filter": "datum.s === 'c'"}], "mark": {"type": "line", "color": "#6e6e6e", "strokeWidth": 1, "clip": true}}]},
 {"width": 137, "height": 151, "title": "CD40", "data": {"name": "A3"},
  "encoding": {"x": {"field": "x", "type": "quantitative", "scale": {"domain": [0, 4], "nice": false}, "axis": {"values": [0,0.301,0.477,0.602,0.699,0.778,0.845,0.903,0.954,1,1.301,1.477,1.602,1.699,1.778,1.845,1.903,1.954,2,2.301,2.477,2.602,2.699,2.778,2.845,2.903,2.954,3,3.301,3.477,3.602,3.699,3.778,3.845,3.903,3.954,4], "labelExpr": "datum.value % 1 === 0 ? '10' + ['⁰','¹','²','³','⁴'][datum.value] : ''", "title": null}},
   "y": {"field": "y", "type": "quantitative", "scale": {"domain": [0, 80], "nice": false}, "axis": {"values": [0,2,4,6,8,10,12,14,16,18,20,22,24,26,28,30,32,34,36,38,40,42,44,46,48,50,52,54,56,58,60,62,64,66,68,70,72,74,76,78,80], "labelExpr": "datum.value % 10 === 0 ? datum.label : ''", "title": null}}},
  "layer": [
   {"transform": [{"filter": "datum.s === 'f'"}], "mark": {"type": "area", "fill": "#4f4f4f", "stroke": "black", "strokeWidth": 1, "opacity": 1, "clip": true}},
   {"transform": [{"filter": "datum.s === 'c'"}], "mark": {"type": "line", "color": "#6e6e6e", "strokeWidth": 1, "clip": true}}]},
 {"width": 131, "height": 151, "title": "CD80", "data": {"name": "A4"},
  "encoding": {"x": {"field": "x", "type": "quantitative", "scale": {"domain": [0, 4], "nice": false}, "axis": {"values": [0,0.301,0.477,0.602,0.699,0.778,0.845,0.903,0.954,1,1.301,1.477,1.602,1.699,1.778,1.845,1.903,1.954,2,2.301,2.477,2.602,2.699,2.778,2.845,2.903,2.954,3,3.301,3.477,3.602,3.699,3.778,3.845,3.903,3.954,4], "labelExpr": "datum.value % 1 === 0 ? '10' + ['⁰','¹','²','³','⁴'][datum.value] : ''", "title": null}},
   "y": {"field": "y", "type": "quantitative", "scale": {"domain": [0, 180], "nice": false}, "axis": {"values": [0,6,12,18,24,30,36,42,48,54,60,66,72,78,84,90,96,102,108,114,120,126,132,138,144,150,156,162,168,174,180], "labelExpr": "datum.value % 30 === 0 ? datum.label : ''", "title": null}}},
  "layer": [
   {"transform": [{"filter": "datum.s === 'f'"}], "mark": {"type": "area", "fill": "#4f4f4f", "stroke": "black", "strokeWidth": 1, "opacity": 1, "clip": true}},
   {"transform": [{"filter": "datum.s === 'c'"}], "mark": {"type": "line", "color": "#6e6e6e", "strokeWidth": 1, "clip": true}}]},
 {"width": 133, "height": 151, "title": "CD86", "data": {"name": "A5"},
  "encoding": {"x": {"field": "x", "type": "quantitative", "scale": {"domain": [0, 4], "nice": false}, "axis": {"values": [0,0.301,0.477,0.602,0.699,0.778,0.845,0.903,0.954,1,1.301,1.477,1.602,1.699,1.778,1.845,1.903,1.954,2,2.301,2.477,2.602,2.699,2.778,2.845,2.903,2.954,3,3.301,3.477,3.602,3.699,3.778,3.845,3.903,3.954,4], "labelExpr": "datum.value % 1 === 0 ? '10' + ['⁰','¹','²','³','⁴'][datum.value] : ''", "title": null}},
   "y": {"field": "y", "type": "quantitative", "scale": {"domain": [0, 180], "nice": false}, "axis": {"values": [0,6,12,18,24,30,36,42,48,54,60,66,72,78,84,90,96,102,108,114,120,126,132,138,144,150,156,162,168,174,180], "labelExpr": "datum.value % 30 === 0 ? datum.label : ''", "title": null}}},
  "layer": [
   {"transform": [{"filter": "datum.s === 'f'"}], "mark": {"type": "area", "fill": "#4f4f4f", "stroke": "black", "strokeWidth": 1, "opacity": 1, "clip": true}},
   {"transform": [{"filter": "datum.s === 'c'"}], "mark": {"type": "line", "color": "#6e6e6e", "strokeWidth": 1, "clip": true}}]},
 {"width": 137, "height": 146, "data": {"name": "B1"},
  "encoding": {"x": {"field": "x", "type": "quantitative", "scale": {"domain": [0, 4], "nice": false}, "axis": {"values": [0,0.301,0.477,0.602,0.699,0.778,0.845,0.903,0.954,1,1.301,1.477,1.602,1.699,1.778,1.845,1.903,1.954,2,2.301,2.477,2.602,2.699,2.778,2.845,2.903,2.954,3,3.301,3.477,3.602,3.699,3.778,3.845,3.903,3.954,4], "labelExpr": "datum.value % 1 === 0 ? '10' + ['⁰','¹','²','³','⁴'][datum.value] : ''", "title": null}},
   "y": {"field": "y", "type": "quantitative", "scale": {"domain": [0, 150], "nice": false}, "axis": {"values": [0,6,12,18,24,30,36,42,48,54,60,66,72,78,84,90,96,102,108,114,120,126,132,138,144,150], "labelExpr": "datum.value % 30 === 0 ? datum.label : ''", "title": "B", "titleY": -3}}},
  "layer": [
   {"transform": [{"filter": "datum.s === 'f'"}], "mark": {"type": "area", "fill": "#4f4f4f", "stroke": "black", "strokeWidth": 1, "opacity": 1, "clip": true}},
   {"transform": [{"filter": "datum.s === 'b'"}], "mark": {"type": "line", "color": "white", "strokeWidth": 3.2, "clip": true}},
   {"transform": [{"filter": "datum.s === 'b'"}], "mark": {"type": "line", "color": "black", "strokeWidth": 2, "clip": true}},
   {"transform": [{"filter": "datum.s === 'c'"}], "mark": {"type": "line", "color": "#6e6e6e", "strokeWidth": 1, "clip": true}}]},
 {"width": 136, "height": 146, "data": {"name": "B2"},
  "encoding": {"x": {"field": "x", "type": "quantitative", "scale": {"domain": [0, 4], "nice": false}, "axis": {"values": [0,0.301,0.477,0.602,0.699,0.778,0.845,0.903,0.954,1,1.301,1.477,1.602,1.699,1.778,1.845,1.903,1.954,2,2.301,2.477,2.602,2.699,2.778,2.845,2.903,2.954,3,3.301,3.477,3.602,3.699,3.778,3.845,3.903,3.954,4], "labelExpr": "datum.value % 1 === 0 ? '10' + ['⁰','¹','²','³','⁴'][datum.value] : ''", "title": null}},
   "y": {"field": "y", "type": "quantitative", "scale": {"domain": [0, 150], "nice": false}, "axis": {"values": [0,6,12,18,24,30,36,42,48,54,60,66,72,78,84,90,96,102,108,114,120,126,132,138,144,150], "labelExpr": "datum.value % 30 === 0 ? datum.label : ''", "title": null}}},
  "layer": [
   {"transform": [{"filter": "datum.s === 'f'"}], "mark": {"type": "area", "fill": "#4f4f4f", "stroke": "black", "strokeWidth": 1, "opacity": 1, "clip": true}},
   {"transform": [{"filter": "datum.s === 'b'"}], "mark": {"type": "line", "color": "white", "strokeWidth": 3.2, "clip": true}},
   {"transform": [{"filter": "datum.s === 'b'"}], "mark": {"type": "line", "color": "black", "strokeWidth": 2, "clip": true}},
   {"transform": [{"filter": "datum.s === 'c'"}], "mark": {"type": "line", "color": "#6e6e6e", "strokeWidth": 1, "clip": true}}]},
 {"width": 137, "height": 146, "data": {"name": "B3"},
  "encoding": {"x": {"field": "x", "type": "quantitative", "scale": {"domain": [0, 4], "nice": false}, "axis": {"values": [0,0.301,0.477,0.602,0.699,0.778,0.845,0.903,0.954,1,1.301,1.477,1.602,1.699,1.778,1.845,1.903,1.954,2,2.301,2.477,2.602,2.699,2.778,2.845,2.903,2.954,3,3.301,3.477,3.602,3.699,3.778,3.845,3.903,3.954,4], "labelExpr": "datum.value % 1 === 0 ? '10' + ['⁰','¹','²','³','⁴'][datum.value] : ''", "title": null}},
   "y": {"field": "y", "type": "quantitative", "scale": {"domain": [0, 150], "nice": false}, "axis": {"values": [0,6,12,18,24,30,36,42,48,54,60,66,72,78,84,90,96,102,108,114,120,126,132,138,144,150], "labelExpr": "datum.value % 30 === 0 ? datum.label : ''", "title": null}}},
  "layer": [
   {"transform": [{"filter": "datum.s === 'f'"}], "mark": {"type": "area", "fill": "#4f4f4f", "stroke": "black", "strokeWidth": 1, "opacity": 1, "clip": true}},
   {"transform": [{"filter": "datum.s === 'b'"}], "mark": {"type": "line", "color": "white", "strokeWidth": 3.2, "clip": true}},
   {"transform": [{"filter": "datum.s === 'b'"}], "mark": {"type": "line", "color": "black", "strokeWidth": 2, "clip": true}},
   {"transform": [{"filter": "datum.s === 'c'"}], "mark": {"type": "line", "color": "#6e6e6e", "strokeWidth": 1, "clip": true}}]},
 {"width": 131, "height": 146, "data": {"name": "B4"},
  "encoding": {"x": {"field": "x", "type": "quantitative", "scale": {"domain": [0, 4], "nice": false}, "axis": {"values": [0,0.301,0.477,0.602,0.699,0.778,0.845,0.903,0.954,1,1.301,1.477,1.602,1.699,1.778,1.845,1.903,1.954,2,2.301,2.477,2.602,2.699,2.778,2.845,2.903,2.954,3,3.301,3.477,3.602,3.699,3.778,3.845,3.903,3.954,4], "labelExpr": "datum.value % 1 === 0 ? '10' + ['⁰','¹','²','³','⁴'][datum.value] : ''", "title": null}},
   "y": {"field": "y", "type": "quantitative", "scale": {"domain": [0, 150], "nice": false}, "axis": {"values": [0,6,12,18,24,30,36,42,48,54,60,66,72,78,84,90,96,102,108,114,120,126,132,138,144,150], "labelExpr": "datum.value % 30 === 0 ? datum.label : ''", "title": null}}},
  "layer": [
   {"transform": [{"filter": "datum.s === 'f'"}], "mark": {"type": "area", "fill": "#4f4f4f", "stroke": "black", "strokeWidth": 1, "opacity": 1, "clip": true}},
   {"transform": [{"filter": "datum.s === 'b'"}], "mark": {"type": "line", "color": "white", "strokeWidth": 3.2, "clip": true}},
   {"transform": [{"filter": "datum.s === 'b'"}], "mark": {"type": "line", "color": "black", "strokeWidth": 2, "clip": true}},
   {"transform": [{"filter": "datum.s === 'c'"}], "mark": {"type": "line", "color": "#6e6e6e", "strokeWidth": 1, "clip": true}}]},
 {"width": 133, "height": 146, "data": {"name": "B5"},
  "encoding": {"x": {"field": "x", "type": "quantitative", "scale": {"domain": [0, 4], "nice": false}, "axis": {"values": [0,0.301,0.477,0.602,0.699,0.778,0.845,0.903,0.954,1,1.301,1.477,1.602,1.699,1.778,1.845,1.903,1.954,2,2.301,2.477,2.602,2.699,2.778,2.845,2.903,2.954,3,3.301,3.477,3.602,3.699,3.778,3.845,3.903,3.954,4], "labelExpr": "datum.value % 1 === 0 ? '10' + ['⁰','¹','²','³','⁴'][datum.value] : ''", "title": null}},
   "y": {"field": "y", "type": "quantitative", "scale": {"domain": [0, 150], "nice": false}, "axis": {"values": [0,6,12,18,24,30,36,42,48,54,60,66,72,78,84,90,96,102,108,114,120,126,132,138,144,150], "labelExpr": "datum.value % 30 === 0 ? datum.label : ''", "title": null}}},
  "layer": [
   {"transform": [{"filter": "datum.s === 'f'"}], "mark": {"type": "area", "fill": "#4f4f4f", "stroke": "black", "strokeWidth": 1, "opacity": 1, "clip": true}},
   {"transform": [{"filter": "datum.s === 'b'"}], "mark": {"type": "line", "color": "white", "strokeWidth": 3.2, "clip": true}},
   {"transform": [{"filter": "datum.s === 'b'"}], "mark": {"type": "line", "color": "black", "strokeWidth": 2, "clip": true}},
   {"transform": [{"filter": "datum.s === 'c'"}], "mark": {"type": "line", "color": "#6e6e6e", "strokeWidth": 1, "clip": true}}]},
 {"width": 137, "height": 149, "data": {"name": "C1"},
  "encoding": {"x": {"field": "x", "type": "quantitative", "scale": {"domain": [0, 4], "nice": false}, "axis": {"values": [0,0.301,0.477,0.602,0.699,0.778,0.845,0.903,0.954,1,1.301,1.477,1.602,1.699,1.778,1.845,1.903,1.954,2,2.301,2.477,2.602,2.699,2.778,2.845,2.903,2.954,3,3.301,3.477,3.602,3.699,3.778,3.845,3.903,3.954,4], "labelExpr": "datum.value % 1 === 0 ? '10' + ['⁰','¹','²','³','⁴'][datum.value] : ''", "title": null}},
   "y": {"field": "y", "type": "quantitative", "scale": {"domain": [0, 120], "nice": false}, "axis": {"values": [0,4,8,12,16,20,24,28,32,36,40,44,48,52,56,60,64,68,72,76,80,84,88,92,96,100,104,108,112,116,120], "labelExpr": "datum.value % 20 === 0 ? datum.label : ''", "title": "C", "titleY": -6}}},
  "layer": [
   {"transform": [{"filter": "datum.s === 'f'"}], "mark": {"type": "area", "fill": "#4f4f4f", "stroke": "black", "strokeWidth": 1, "opacity": 1, "clip": true}},
   {"transform": [{"filter": "datum.s === 'b'"}], "mark": {"type": "line", "color": "white", "strokeWidth": 3.2, "clip": true}},
   {"transform": [{"filter": "datum.s === 'b'"}], "mark": {"type": "line", "color": "black", "strokeWidth": 2, "clip": true}},
   {"transform": [{"filter": "datum.s === 'c'"}], "mark": {"type": "line", "color": "#6e6e6e", "strokeWidth": 1, "clip": true}}]},
 {"width": 136, "height": 149, "data": {"name": "C2"},
  "encoding": {"x": {"field": "x", "type": "quantitative", "scale": {"domain": [0, 4], "nice": false}, "axis": {"values": [0,0.301,0.477,0.602,0.699,0.778,0.845,0.903,0.954,1,1.301,1.477,1.602,1.699,1.778,1.845,1.903,1.954,2,2.301,2.477,2.602,2.699,2.778,2.845,2.903,2.954,3,3.301,3.477,3.602,3.699,3.778,3.845,3.903,3.954,4], "labelExpr": "datum.value % 1 === 0 ? '10' + ['⁰','¹','²','³','⁴'][datum.value] : ''", "title": null}},
   "y": {"field": "y", "type": "quantitative", "scale": {"domain": [0, 120], "nice": false}, "axis": {"values": [0,4,8,12,16,20,24,28,32,36,40,44,48,52,56,60,64,68,72,76,80,84,88,92,96,100,104,108,112,116,120], "labelExpr": "datum.value % 20 === 0 ? datum.label : ''", "title": null}}},
  "layer": [
   {"transform": [{"filter": "datum.s === 'f'"}], "mark": {"type": "area", "fill": "#4f4f4f", "stroke": "black", "strokeWidth": 1, "opacity": 1, "clip": true}},
   {"transform": [{"filter": "datum.s === 'b'"}], "mark": {"type": "line", "color": "white", "strokeWidth": 3.2, "clip": true}},
   {"transform": [{"filter": "datum.s === 'b'"}], "mark": {"type": "line", "color": "black", "strokeWidth": 2, "clip": true}},
   {"transform": [{"filter": "datum.s === 'c'"}], "mark": {"type": "line", "color": "#6e6e6e", "strokeWidth": 1, "clip": true}}]},
 {"width": 137, "height": 149, "data": {"name": "C3"},
  "encoding": {"x": {"field": "x", "type": "quantitative", "scale": {"domain": [0, 4], "nice": false}, "axis": {"values": [0,0.301,0.477,0.602,0.699,0.778,0.845,0.903,0.954,1,1.301,1.477,1.602,1.699,1.778,1.845,1.903,1.954,2,2.301,2.477,2.602,2.699,2.778,2.845,2.903,2.954,3,3.301,3.477,3.602,3.699,3.778,3.845,3.903,3.954,4], "labelExpr": "datum.value % 1 === 0 ? '10' + ['⁰','¹','²','³','⁴'][datum.value] : ''", "title": null}},
   "y": {"field": "y", "type": "quantitative", "scale": {"domain": [0, 120], "nice": false}, "axis": {"values": [0,4,8,12,16,20,24,28,32,36,40,44,48,52,56,60,64,68,72,76,80,84,88,92,96,100,104,108,112,116,120], "labelExpr": "datum.value % 20 === 0 ? datum.label : ''", "title": null}}},
  "layer": [
   {"transform": [{"filter": "datum.s === 'f'"}], "mark": {"type": "area", "fill": "#4f4f4f", "stroke": "black", "strokeWidth": 1, "opacity": 1, "clip": true}},
   {"transform": [{"filter": "datum.s === 'b'"}], "mark": {"type": "line", "color": "white", "strokeWidth": 3.2, "clip": true}},
   {"transform": [{"filter": "datum.s === 'b'"}], "mark": {"type": "line", "color": "black", "strokeWidth": 2, "clip": true}},
   {"transform": [{"filter": "datum.s === 'c'"}], "mark": {"type": "line", "color": "#6e6e6e", "strokeWidth": 1, "clip": true}}]},
 {"width": 131, "height": 149, "data": {"name": "C4"},
  "encoding": {"x": {"field": "x", "type": "quantitative", "scale": {"domain": [0, 4], "nice": false}, "axis": {"values": [0,0.301,0.477,0.602,0.699,0.778,0.845,0.903,0.954,1,1.301,1.477,1.602,1.699,1.778,1.845,1.903,1.954,2,2.301,2.477,2.602,2.699,2.778,2.845,2.903,2.954,3,3.301,3.477,3.602,3.699,3.778,3.845,3.903,3.954,4], "labelExpr": "datum.value % 1 === 0 ? '10' + ['⁰','¹','²','³','⁴'][datum.value] : ''", "title": null}},
   "y": {"field": "y", "type": "quantitative", "scale": {"domain": [0, 120], "nice": false}, "axis": {"values": [0,4,8,12,16,20,24,28,32,36,40,44,48,52,56,60,64,68,72,76,80,84,88,92,96,100,104,108,112,116,120], "labelExpr": "datum.value % 20 === 0 ? datum.label : ''", "title": null}}},
  "layer": [
   {"transform": [{"filter": "datum.s === 'f'"}], "mark": {"type": "area", "fill": "#4f4f4f", "stroke": "black", "strokeWidth": 1, "opacity": 1, "clip": true}},
   {"transform": [{"filter": "datum.s === 'b'"}], "mark": {"type": "line", "color": "white", "strokeWidth": 3.2, "clip": true}},
   {"transform": [{"filter": "datum.s === 'b'"}], "mark": {"type": "line", "color": "black", "strokeWidth": 2, "clip": true}},
   {"transform": [{"filter": "datum.s === 'c'"}], "mark": {"type": "line", "color": "#6e6e6e", "strokeWidth": 1, "clip": true}}]},
 {"width": 133, "height": 149, "data": {"name": "C5"},
  "encoding": {"x": {"field": "x", "type": "quantitative", "scale": {"domain": [0, 4], "nice": false}, "axis": {"values": [0,0.301,0.477,0.602,0.699,0.778,0.845,0.903,0.954,1,1.301,1.477,1.602,1.699,1.778,1.845,1.903,1.954,2,2.301,2.477,2.602,2.699,2.778,2.845,2.903,2.954,3,3.301,3.477,3.602,3.699,3.778,3.845,3.903,3.954,4], "labelExpr": "datum.value % 1 === 0 ? '10' + ['⁰','¹','²','³','⁴'][datum.value] : ''", "title": null}},
   "y": {"field": "y", "type": "quantitative", "scale": {"domain": [0, 120], "nice": false}, "axis": {"values": [0,4,8,12,16,20,24,28,32,36,40,44,48,52,56,60,64,68,72,76,80,84,88,92,96,100,104,108,112,116,120], "labelExpr": "datum.value % 20 === 0 ? datum.label : ''", "title": null}}},
  "layer": [
   {"transform": [{"filter": "datum.s === 'f'"}], "mark": {"type": "area", "fill": "#4f4f4f", "stroke": "black", "strokeWidth": 1, "opacity": 1, "clip": true}},
   {"transform": [{"filter": "datum.s === 'b'"}], "mark": {"type": "line", "color": "white", "strokeWidth": 3.2, "clip": true}},
   {"transform": [{"filter": "datum.s === 'b'"}], "mark": {"type": "line", "color": "black", "strokeWidth": 2, "clip": true}},
   {"transform": [{"filter": "datum.s === 'c'"}], "mark": {"type": "line", "color": "#6e6e6e", "strokeWidth": 1, "clip": true}}]}
]
}
